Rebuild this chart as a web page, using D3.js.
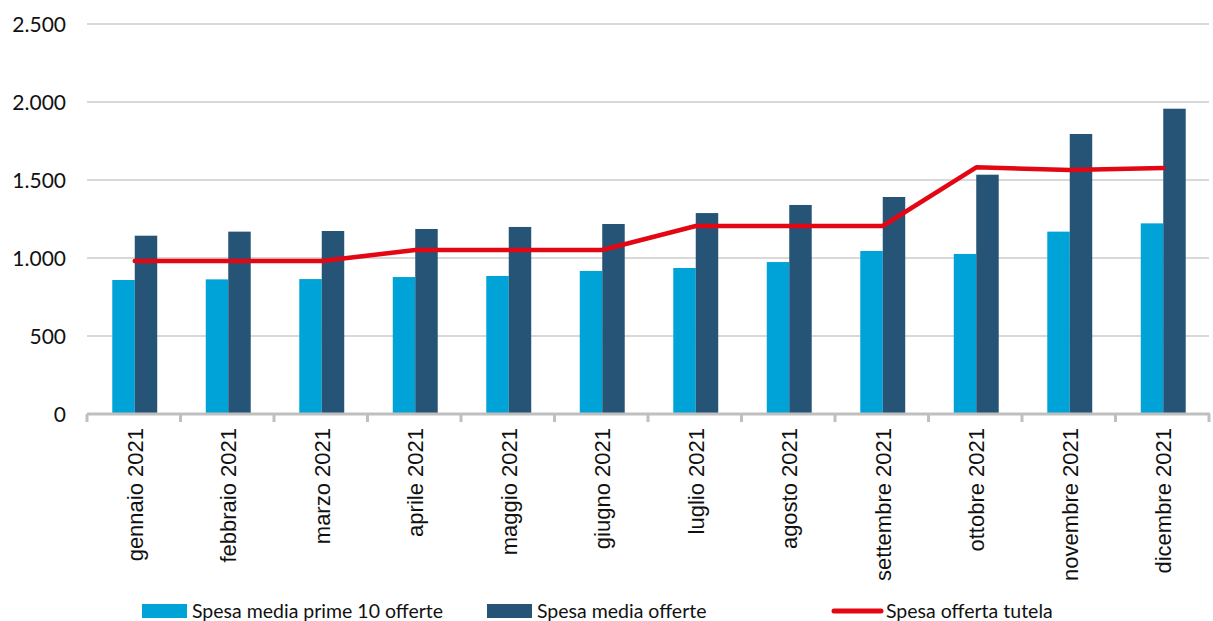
<!DOCTYPE html>
<html><head><meta charset="utf-8">
<script src="https://cdn.jsdelivr.net/npm/d3@7"></script>
<style>body{margin:0;background:#fff}svg{display:block}</style>
</head><body>
<svg id="c" width="1213" height="621"></svg>
<script>
const categories = ["gennaio 2021","febbraio 2021","marzo 2021","aprile 2021","maggio 2021","giugno 2021","luglio 2021","agosto 2021","settembre 2021","ottobre 2021","novembre 2021","dicembre 2021"];
const primeDieci = [859,863,865,878,885,917,936,974,1045,1026,1169,1222];
const mediaOfferte = [1143,1169,1173,1186,1199,1218,1288,1340,1391,1534,1795,1957];
const tutela = [981,981,981,1051,1051,1051,1205,1205,1205,1581,1564,1577];
const yTicks = [0,500,1000,1500,2000,2500];
const seriesNames = ["Spesa media prime 10 offerte","Spesa media offerte","Spesa offerta tutela"];
const colors = ["#00a3d7","#255477","#e30613"];

const svg = d3.select("#c");
const L = 87, R = 1209, T = 24, B = 414;
const x = d3.scaleBand().domain(categories).range([L,R]).paddingInner(0).paddingOuter(0);
const y = d3.scaleLinear().domain([0,2500]).range([B,T]);
const fmt = v => d3.format(",")(v).replace(/,/g,".");

// gridlines
svg.append("g").selectAll("line").data(yTicks.filter(d=>d>0)).join("line")
  .attr("x1",L).attr("x2",R).attr("y1",d=>y(d)).attr("y2",d=>y(d))
  .attr("stroke","#d9d9d9").attr("stroke-width",2);

// y labels
svg.append("g").selectAll("text").data(yTicks).join("text")
  .attr("x",66).attr("y",d=>y(d)).attr("dy","0.36em").attr("text-anchor","end")
  .attr("font-family","Lato, 'Open Sans', sans-serif").attr("font-size",21).attr("fill","#111")
  .text(fmt);

const sub = d3.scaleBand().domain([0,1]).range([0,x.bandwidth()]).paddingInner(0).paddingOuter(1.08);
const g = svg.append("g");
categories.forEach((c,i)=>{
  [primeDieci[i], mediaOfferte[i]].forEach((v,j)=>{
    g.append("rect").attr("x",x(c)+sub(j)+1).attr("width",sub.bandwidth())
     .attr("y",y(v)).attr("height",y(0)-y(v)).attr("fill",colors[j]);
  });
});

// x axis
const xa = svg.append("g").attr("transform",`translate(0,${B})`);
xa.append("line").attr("x1",L).attr("x2",R+1).attr("y1",0).attr("y2",0).attr("stroke","#bfbfbf").attr("stroke-width",3);
const tickX = categories.map(c=>x(c)).concat([R]);
xa.selectAll("line.t").data(tickX).join("line").attr("class","t")
  .attr("x1",d=>d).attr("x2",d=>d).attr("y1",0).attr("y2",8).attr("stroke","#bfbfbf").attr("stroke-width",3);
xa.selectAll("text").data(categories).join("text")
  .attr("transform",d=>`translate(${x(d)+x.bandwidth()/2+9},14) rotate(-90)`)
  .attr("text-anchor","end").attr("font-family","'Liberation Sans', Arial, sans-serif")
  .attr("font-size",22).attr("fill","#111").text(d=>d);

// line
svg.append("path").datum(tutela)
  .attr("d", d3.line().x((d,i)=>x(categories[i])+x.bandwidth()/2+1).y(d=>y(d)))
  .attr("fill","none").attr("stroke",colors[2]).attr("stroke-width",4.5).attr("stroke-linecap","round").attr("stroke-linejoin","round");

// legend
const lg = svg.append("g").attr("font-family","Lato, 'Open Sans', sans-serif").attr("font-size",19.5).attr("fill","#111");
const lx = [142,487,832];
lg.append("rect").attr("x",lx[0]).attr("y",604).attr("width",45).attr("height",14).attr("fill",colors[0]);
lg.append("rect").attr("x",lx[1]).attr("y",604).attr("width",45).attr("height",14).attr("fill",colors[1]);
lg.append("line").attr("x1",lx[2]+2).attr("x2",lx[2]+49).attr("y1",611).attr("y2",611).attr("stroke",colors[2]).attr("stroke-width",5).attr("stroke-linecap","round");
seriesNames.forEach((n,i)=>{
  lg.append("text").attr("x",lx[i]+(i==2?54:50)).attr("y",611).attr("dy","0.36em").text(n);
});
</script>
</body></html>
